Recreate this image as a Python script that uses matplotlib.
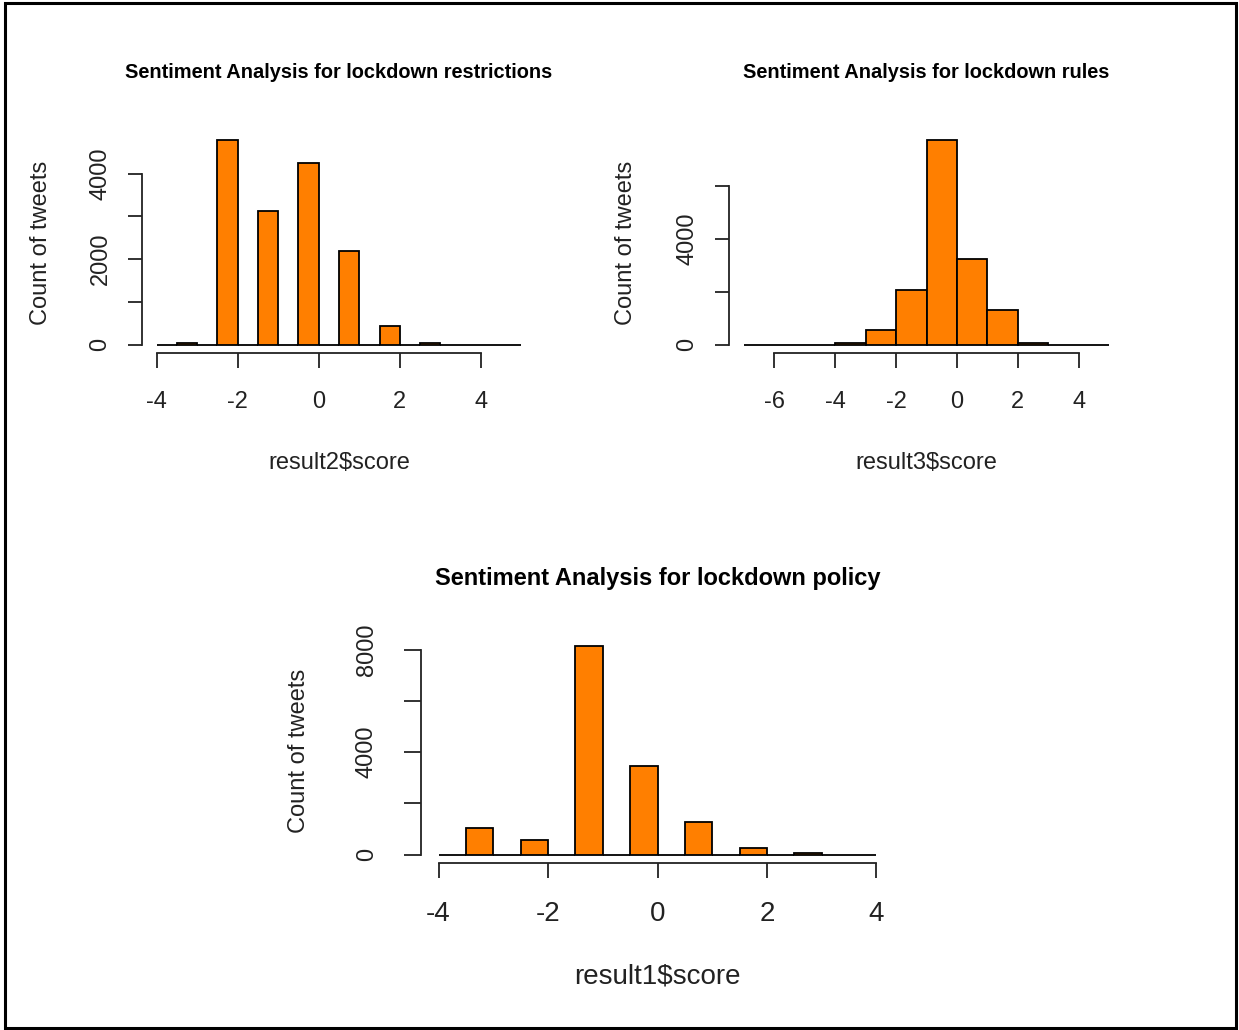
import numpy as np
import matplotlib

matplotlib.use("Agg")

import matplotlib.pyplot as plt
from matplotlib.patches import Rectangle


# result2$score : breaks every 0.5 from -4 to 5, counts per bin
breaks2 = np.arange(-4, 5.01, 0.5)
counts2 = [0, 40, 0, 4780, 0, 3125, 0, 4255, 0, 2180, 0, 450, 0, 40, 0, 0, 0, 0]

# result3$score : breaks every 1 from -7 to 5
breaks3 = np.arange(-7, 5.01, 1)
counts3 = [0, 0, 0, 60, 540, 2050, 7710, 3220, 1330, 50, 0, 0]

# result1$score : breaks every 0.5 from -4 to 4
breaks1 = np.arange(-4, 4.01, 0.5)
counts1 = [0, 1030, 0, 590, 0, 8130, 0, 3460, 0, 1290, 0, 250, 0, 60, 0, 0]

xticks2 = [-4, -2, 0, 2, 4]
yticks2 = [0, 1000, 2000, 3000, 4000]
ylabels2 = ["0", "", "2000", "", "4000"]

xticks3 = [-6, -4, -2, 0, 2, 4]
yticks3 = [0, 2000, 4000, 6000]
ylabels3 = ["0", "", "4000", ""]

xticks1 = [-4, -2, 0, 2, 4]
yticks1 = [0, 2000, 4000, 6000, 8000]
ylabels1 = ["0", "", "4000", "", "8000"]

W, H = 1239, 1030
BAR_COLOR = "#FF7F00"
TEXT = "#222222"

plt.rcParams["font.family"] = ["Liberation Sans", "DejaVu Sans"]


def px_rect(left, top, right, bottom):
    return [left / W, 1 - bottom / H, (right - left) / W, (bottom - top) / H]


def r_hist(ax, breaks, counts, xticks, yticks, ylabels, title, xlabel,
           title_size, xsize, ylen, ypad, xpad, title_y, ylab_x, xlab_y):
    edges = np.asarray(breaks)
    ax.bar(edges[:-1], counts, width=np.diff(edges), align="edge",
           color=BAR_COLOR, edgecolor="black", linewidth=1.3)

    # R style limits: 4% padding around data range
    span = edges[-1] - edges[0]
    ax.set_xlim(edges[0] - 0.04 * span, edges[-1] + 0.04 * span)
    top = max(counts)
    ax.set_ylim(-0.04 * top, 1.04 * top)

    for side in ("top", "right"):
        ax.spines[side].set_visible(False)
    ax.spines["left"].set_bounds(yticks[0], yticks[-1])
    ax.spines["bottom"].set_bounds(xticks[0], xticks[-1])
    for side in ("left", "bottom"):
        ax.spines[side].set_linewidth(1.3)
        ax.spines[side].set_color("#222222")

    ax.set_xticks(xticks)
    ax.set_xticklabels([str(t) for t in xticks])
    ax.set_yticks(yticks)
    ax.set_yticklabels(ylabels, rotation=90, va="center")
    ax.tick_params(axis="x", length=10.5, width=1.3, pad=xpad, labelsize=xsize,
                   colors="#222222", labelcolor=TEXT)
    ax.tick_params(axis="y", length=ylen, width=1.3, pad=ypad, labelsize=17,
                   colors="#222222", labelcolor=TEXT)

    ax.set_title(title, fontsize=title_size, fontweight="bold", color="black",
                 y=title_y, va="center", pad=0)
    ax.set_xlabel(xlabel, fontsize=xsize, color=TEXT, va="center")
    ax.set_ylabel("Count of tweets", fontsize=17, color=TEXT, va="center")
    ax.yaxis.set_label_coords(ylab_x, 0.5)
    ax.xaxis.set_label_coords(0.5, xlab_y)


fig = plt.figure(figsize=(W / 100, H / 100), dpi=100)

ax1 = fig.add_axes(px_rect(142, 132, 536, 353))
r_hist(ax1, breaks2, counts2, xticks2, yticks2, ylabels2,
       "Sentiment Analysis for lockdown restrictions", "result2$score",
       14.4, 17, 10, 12, 17, 1 + (132 - 73) / 221,
       (41 - 142) / 394, -(463 - 353) / 221)

ax2 = fig.add_axes(px_rect(729, 132, 1124, 353))
r_hist(ax2, breaks3, counts3, xticks3, yticks3, ylabels3,
       "Sentiment Analysis for lockdown rules", "result3$score",
       14.4, 17, 10, 12, 17, 1 + (132 - 73) / 221,
       (626 - 729) / 395, -(463 - 353) / 221)

ax3 = fig.add_axes(px_rect(421, 638, 894, 863))
r_hist(ax3, breaks1, counts1, xticks1, yticks1, ylabels1,
       "Sentiment Analysis for lockdown policy", "result1$score",
       17, 20, 12, 19, 17, 1 + (638 - 579) / 225,
       (299 - 421) / 473, -(976 - 863) / 225)

# screenshot frame
fig.patches.append(Rectangle((5 / W, 2 / H), (1236 - 5) / W, (1027 - 2) / H,
                             transform=fig.transFigure, fill=False,
                             edgecolor="black", linewidth=2.2))

fig.savefig("out.png", dpi=100)
